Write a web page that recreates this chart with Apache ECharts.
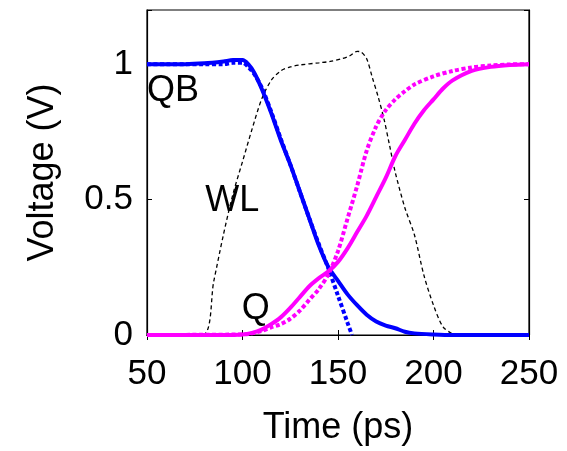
<!DOCTYPE html>
<html>
<head>
<meta charset="utf-8">
<script src="https://cdn.jsdelivr.net/npm/echarts@6/dist/echarts.min.js"></script>
<style>html,body{margin:0;padding:0;background:#fff;}#c{width:567px;height:451px;}</style>
</head>
<body>
<div id="c"></div>
<script>
// ---- data ----
const xTicks = [50, 100, 150, 200, 250];
const yTicks = [0, 0.5, 1];

const qbSolidX = [50,60,70,80,90,95,100,103,106,110,115,120,125,130,135,140,145,150,155,160,165,170,175,180,185,190,200,210,250];
const qbSolidY = [1.0,1.0,1.0,1.003,1.01,1.015,1.015,1.0,0.97,0.91,0.82,0.72,0.63,0.53,0.43,0.33,0.25,0.2,0.15,0.11,0.075,0.05,0.035,0.025,0.012,0.006,0.002,0,0];

const qbDashX = [50,60,70,80,90,95,100,103,106,110,115,120,125,130,135,140,145,150,155,157.3];
const qbDashY = [1.0,1.0,1.0,1.0,1.0,1.005,1.005,0.99,0.965,0.915,0.825,0.725,0.63,0.53,0.43,0.335,0.245,0.145,0.045,0];

const qSolidX = [50,90,100,105,110,115,120,125,130,135,140,145,150,155,160,165,170,175,180,185,190,195,200,205,210,220,230,240,250];
const qSolidY = [0,0,0.002,0.008,0.02,0.04,0.065,0.1,0.14,0.18,0.21,0.235,0.27,0.32,0.38,0.44,0.51,0.58,0.66,0.72,0.78,0.83,0.87,0.91,0.94,0.975,0.99,0.997,1.0];

const qDashX = [50,100,105,110,115,120,125,130,135,140,145,150,155,160,165,170,175,180,185,190,200,210,220,230,240,250];
const qDashY = [0,0.002,0.006,0.015,0.028,0.04,0.06,0.09,0.13,0.17,0.225,0.31,0.43,0.55,0.68,0.77,0.83,0.87,0.9,0.925,0.955,0.975,0.988,0.995,0.999,1.0];

const wlX = [50,79,85,90,95,100,105,110,115,120,125,130,140,146,152,156,160,162,165,168,171,174,177,180,185,190,195,200,205,210,212,250];
const wlY = [0,0,0.2,0.37,0.52,0.64,0.76,0.87,0.94,0.975,0.99,0.997,1.005,1.01,1.02,1.03,1.047,1.045,1.02,0.95,0.88,0.8,0.7,0.6,0.47,0.37,0.22,0.11,0.03,0.004,0,0];

const labelNames = ['QB', 'WL', 'Q'];
const labelX = [63.6, 94.6, 106.9];
const labelY = [0.90, 0.496, 0.094];

// ---- build ----
const pairs = (xs, ys) => xs.map((x, i) => [x, ys[i]]);
const FONT = 'Liberation Sans';
const BLUE = '#0000ff', MAG = '#ff00ff';

const chart = echarts.init(document.getElementById('c'), null, {renderer: 'canvas'});
const axisCommon = {
  axisLine: {show: true, lineStyle: {color: '#000', width: 1.2}},
  axisTick: {show: true, inside: true, length: 5, lineStyle: {color: '#000', width: 1}},
  splitLine: {show: false}
};
chart.setOption({
  animation: false,
  backgroundColor: '#fff',
  grid: {left: 147, right: 38, top: 10, bottom: 107, show: true, borderColor: '#000', borderWidth: 1.2, backgroundColor: 'transparent'},
  xAxis: [
    Object.assign({}, axisCommon, {
      type: 'value', min: 50, max: 250, interval: 50, position: 'bottom',
      name: 'Time (ps)', nameLocation: 'middle', nameGap: 75,
      nameTextStyle: {fontFamily: FONT, fontSize: 36, color: '#000'},
      axisLabel: {fontFamily: FONT, fontSize: 35, color: '#000', margin: 22,
        formatter: v => xTicks.includes(v) ? String(v) : ''}
    }),
    Object.assign({}, axisCommon, {
      type: 'value', min: 50, max: 250, interval: 50, position: 'top',
      axisLabel: {show: false}
    })
  ],
  yAxis: [
    Object.assign({}, axisCommon, {
      type: 'value', min: 0, max: 1.2, interval: 0.5, position: 'left',
      name: 'Voltage (V)', nameLocation: 'middle', nameGap: 86,
      nameTextStyle: {fontFamily: FONT, fontSize: 36, color: '#000'},
      axisLabel: {fontFamily: FONT, fontSize: 35, color: '#000', margin: 14,
        formatter: v => yTicks.includes(v) ? String(v) : ''}
    }),
    Object.assign({}, axisCommon, {
      type: 'value', min: 0, max: 1.2, interval: 0.5, position: 'right',
      axisLabel: {show: false}
    })
  ],
  series: [
    {type: 'line', name: 'WL', data: pairs(wlX, wlY), showSymbol: false, smooth: 0.3,
      lineStyle: {color: '#000', width: 1.3, type: [4, 3]}, z: 2},
    {type: 'line', name: 'QB', data: pairs(qbSolidX, qbSolidY), showSymbol: false, smooth: 0.3,
      lineStyle: {color: BLUE, width: 4}, z: 3},
    {type: 'line', name: 'QB ref', data: pairs(qbDashX, qbDashY), showSymbol: false, smooth: 0.3,
      lineStyle: {color: BLUE, width: 4, type: [4, 2.5]}, z: 3},
    {type: 'line', name: 'Q', data: pairs(qSolidX, qSolidY), showSymbol: false, smooth: 0.3,
      lineStyle: {color: MAG, width: 4}, z: 3},
    {type: 'line', name: 'Q ref', data: pairs(qDashX, qDashY), showSymbol: false, smooth: 0.3,
      lineStyle: {color: MAG, width: 4, type: [4, 2.5]}, z: 3},
    {type: 'scatter', name: 'labels', symbolSize: 1, silent: true, z: 5,
      itemStyle: {color: 'rgba(0,0,0,0)'},
      data: labelNames.map((n, i) => ({value: [labelX[i], labelY[i]], name: n})),
      label: {show: true, position: 'inside', formatter: p => p.name,
        fontFamily: FONT, fontSize: 36, color: '#000', textBorderWidth: 0, opacity: 1}}
  ]
});
</script>
</body>
</html>
